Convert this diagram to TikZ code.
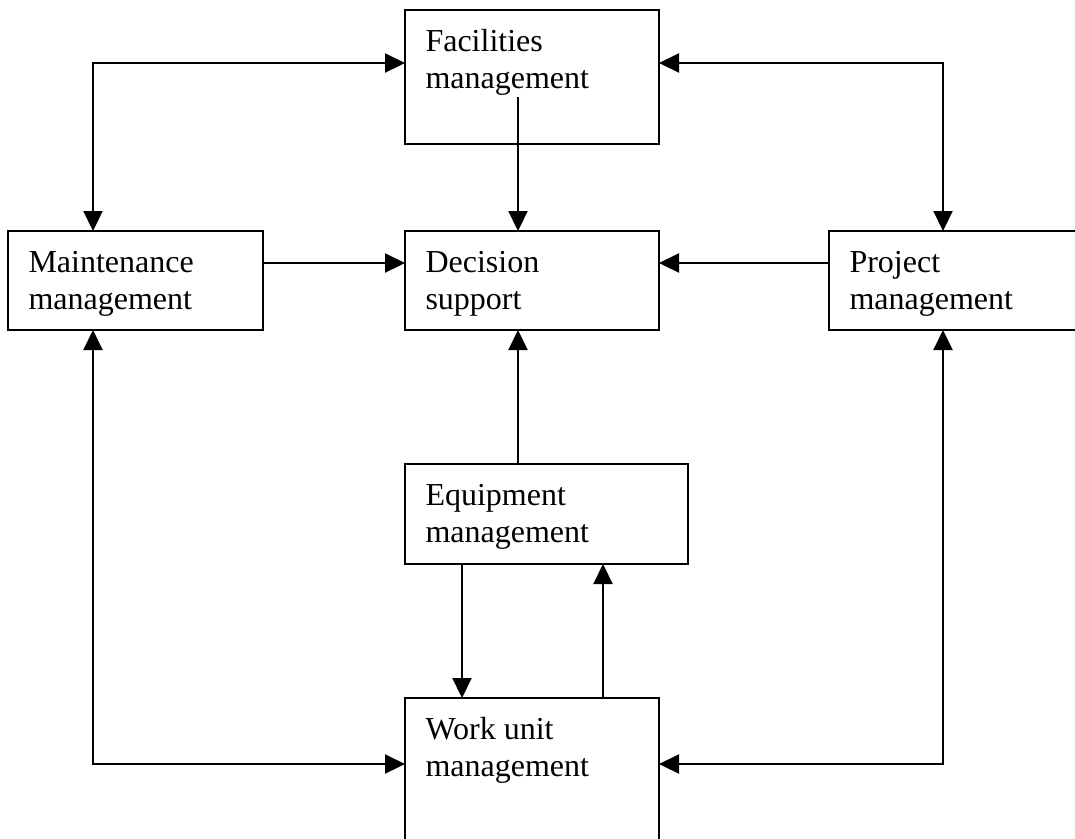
\documentclass[tikz,border=0pt]{standalone}
\usepackage{fontspec}
\setmainfont{Liberation Serif}
\usetikzlibrary{arrows.meta,positioning,calc}

\begin{document}
\begin{tikzpicture}[x=0.375pt,y=-0.375pt,
			mybox/.style={draw,line width=0.5pt,inner sep=0pt,outer sep=0pt,anchor=north west},
			mylabel/.style={anchor=base west,inner sep=0pt,align=left,font=\fontsize{12pt}{13.8pt}\selectfont},
			flow/.style={line width=0.5pt,-{Triangle[length=7.5pt,width=7.2pt]}},
			twoway/.style={line width=0.5pt,{Triangle[length=7.5pt,width=7.2pt]}-{Triangle[length=7.5pt,width=7.2pt]}}
		]
		\clip (0,0) rectangle (1075,838);

		\node[mybox,minimum width=95.25pt,minimum height=50.25pt] (fac) at (405,10) {};
		\node[mybox,minimum width=95.625pt,minimum height=37.125pt] (maint) at (8,231) {};
		\node[mybox,minimum width=95.25pt,minimum height=37.125pt] (dec) at (405,231) {};
		\node[mybox,minimum width=101.25pt,minimum height=37.125pt] (proj) at (829,231) {};
		\node[mybox,minimum width=106.125pt,minimum height=37.5pt] (equip) at (405,464) {};
		\node[mybox,minimum width=95.25pt,minimum height=60pt] (wu) at (405,698) {};

		% base anchor sits on the last line
		\node[mylabel] (facT) at ([shift={(20,78)}]fac.north west) {Facilities\\management};
		\node[mylabel] (maintT) at ([shift={(20,78)}]maint.north west) {Maintenance\\management};
		\node[mylabel] (decT) at ([shift={(20,78)}]dec.north west) {Decision\\support};
		\node[mylabel] (projT) at ([shift={(20,78)}]proj.north west) {Project\\management};
		\node[mylabel] (equipT) at ([shift={(20,78)}]equip.north west) {Equipment\\management};
		\node[mylabel] (wuT) at ([shift={(20,78)}]wu.north west) {Work unit\\management};

		% facilities <-> maintenance / project
		\draw[twoway] ([shift={(0,53)}]fac.north west) -| ([shift={(85,0)}]maint.north west);
		\draw[twoway] ([shift={(0,53)}]fac.north east) -| ([shift={(114,0)}]proj.north west);

		% into decision support
		\draw[flow] ([shift={(113,87)}]fac.north west) coordinate (facOut) -- (facOut |- dec.north);
		\draw[flow] ([shift={(0,32)}]maint.north east) coordinate (maintOut) -- (maintOut -| dec.west);
		\draw[flow] ([shift={(0,32)}]proj.north west) coordinate (projOut) -- (projOut -| dec.east);
		\draw[flow] ([shift={(113,0)}]equip.north west) coordinate (equipOut) -- (equipOut |- dec.south);

		% equipment <-> work unit
		\draw[flow] ([shift={(57,0)}]equip.south west) coordinate (equipDown) -- (equipDown |- wu.north);
		\draw[flow] ([shift={(198,0)}]wu.north west) coordinate (wuUp) -- (wuUp |- equip.south);

		% work unit <-> maintenance / project
		\draw[twoway] ([shift={(85,0)}]maint.south west) |- ([shift={(0,66)}]wu.north west);
		\draw[twoway] ([shift={(114,0)}]proj.south west) |- ([shift={(0,66)}]wu.north east);

	\end{tikzpicture}
\end{document}
